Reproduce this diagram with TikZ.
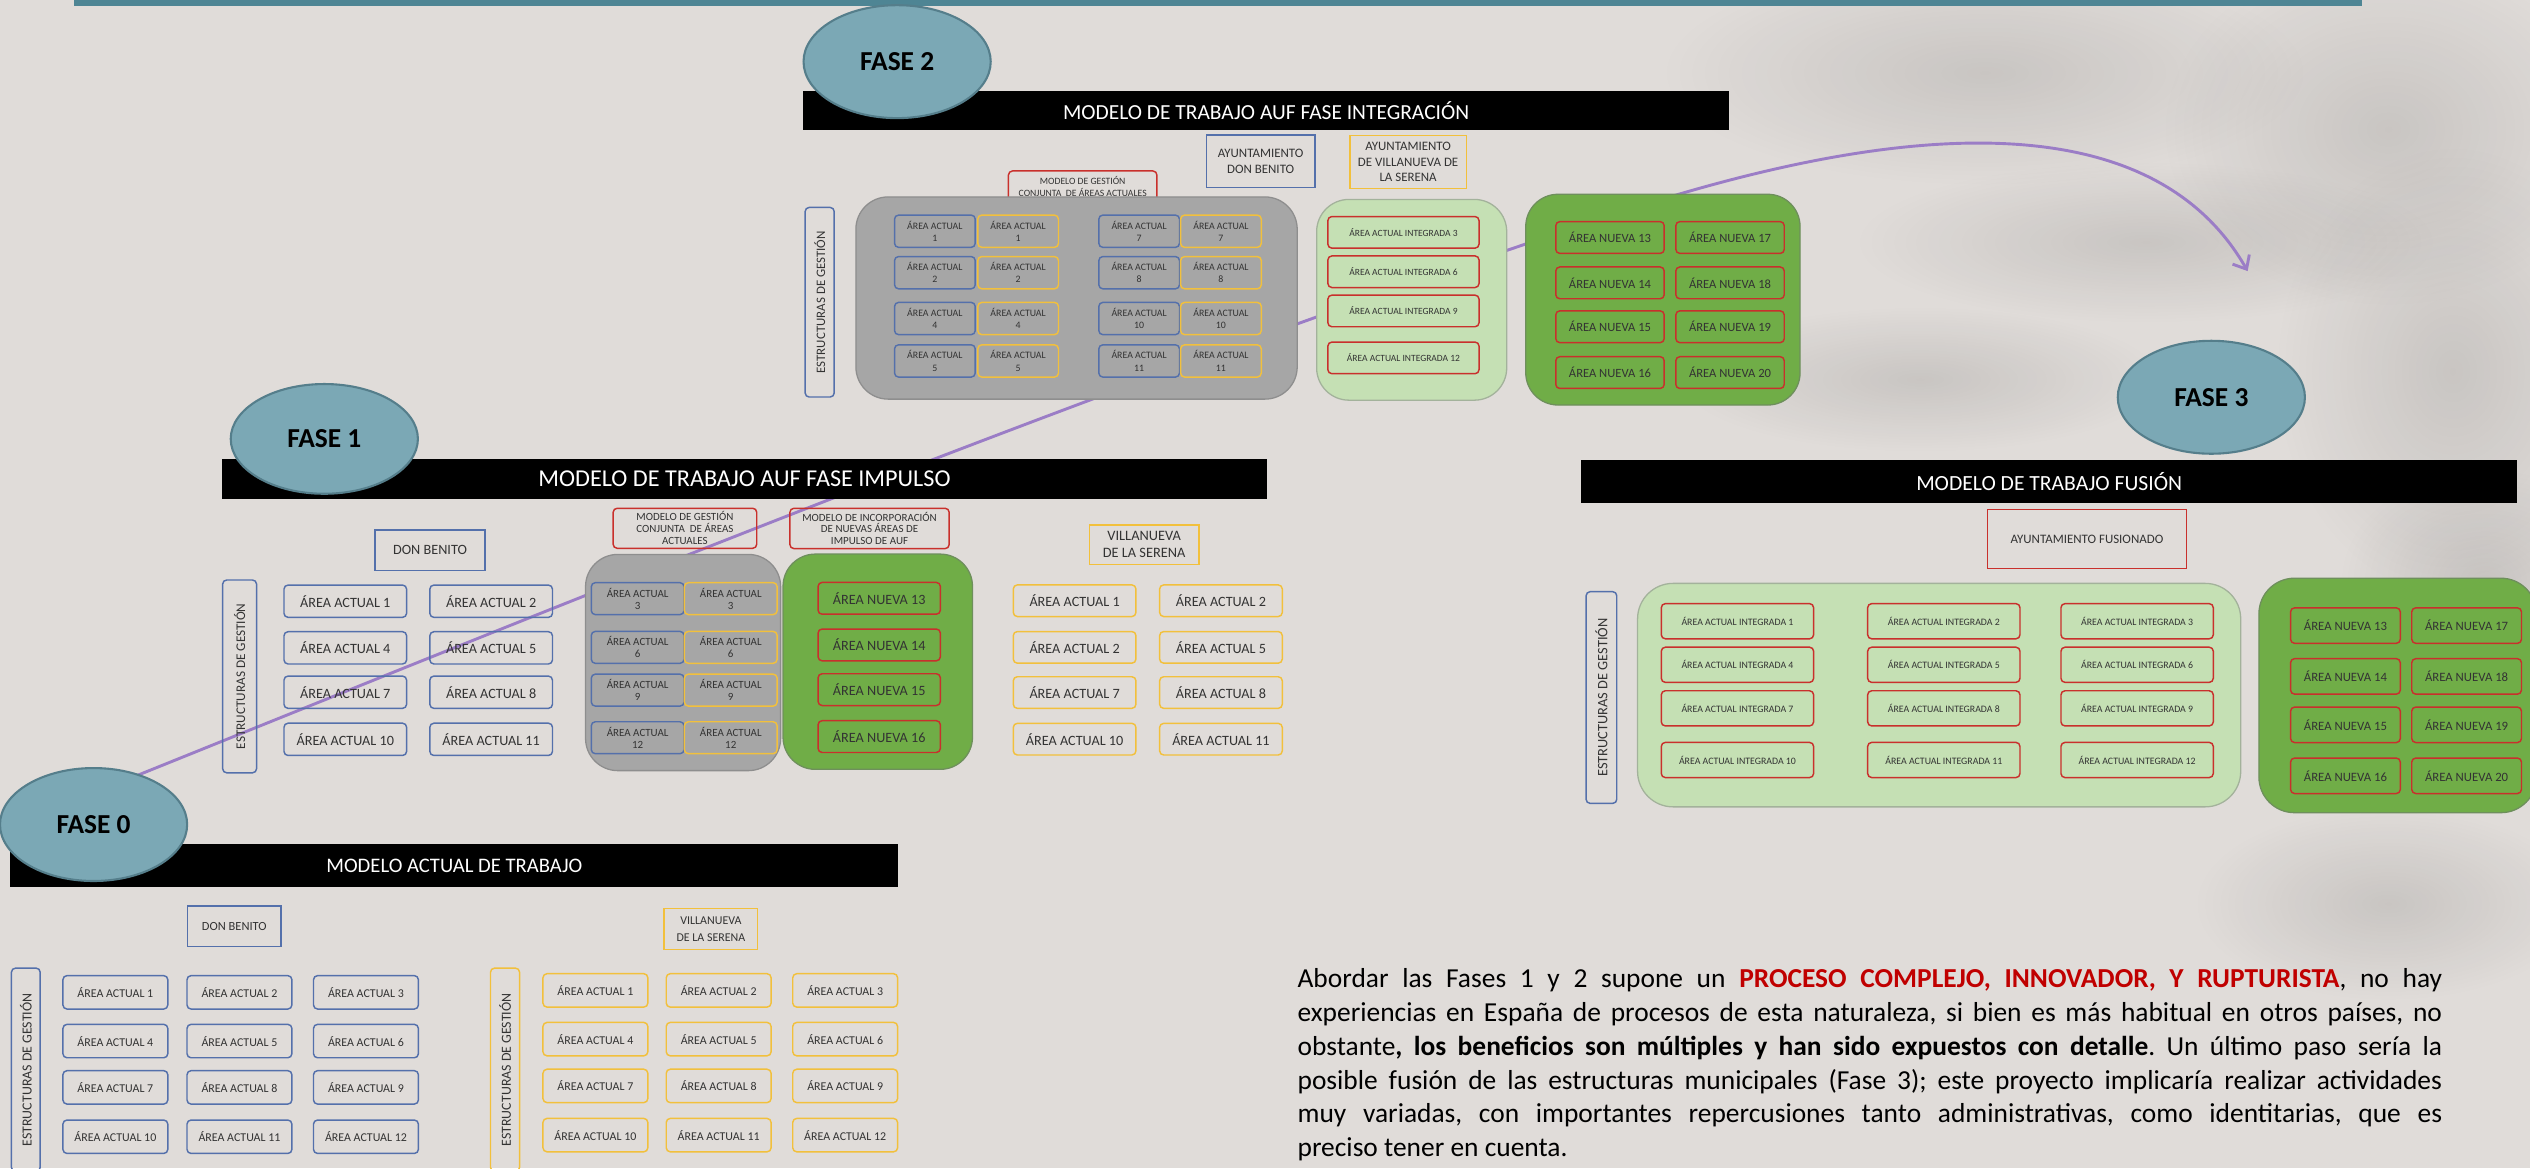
\documentclass[tikz,border=0pt]{standalone}
\usepackage{fontspec}
\setmainfont{Carlito}
\usetikzlibrary{shapes.geometric,arrows.meta,positioning,backgrounds,fadings}

\definecolor{bgcol}{HTML}{E0DCD9}
\definecolor{topteal}{HTML}{4E8594}
\definecolor{fasefill}{HTML}{7BA8B5}
\definecolor{faseline}{HTML}{557E8B}
\definecolor{dbblue}{HTML}{5470AB}
\definecolor{vsyellow}{HTML}{F2C03C}
\definecolor{rdred}{HTML}{C9302C}
\definecolor{panelgray}{HTML}{A6A6A6}
\definecolor{panelgrayline}{HTML}{8E8E8E}
\definecolor{lightgreen}{HTML}{C5E0B4}
\definecolor{lightgreenline}{HTML}{A3B29B}
\definecolor{darkgreen}{HTML}{70AD47}
\definecolor{darkgreenline}{HTML}{6E8F5C}
\definecolor{arrowviolet}{HTML}{9B7DC6}
\definecolor{boxtext}{HTML}{333333}
\definecolor{keyred}{HTML}{C00000}

\tikzfading[name=smokefade, inner color=transparent!0, outer color=transparent!100]

\newcommand{\sizefont}[2]{\fontsize{#1}{#2}\selectfont}

\begin{document}
\begin{tikzpicture}[%
    x=1pt, y=-1pt,              % work in the pixel grid of the slide
    font=\sizefont{8}{9},
    ]
% -------------------------------------------------
% Box styles
\tikzset{
base/.style={draw, line width=0.9pt, align=center, inner sep=0pt, text=boxtext},
area/.style={base, rounded corners=2.5pt},
db/.style={area, draw=dbblue},
vs/.style={area, draw=vsyellow},
rd/.style={area, draw=rdred},
tag/.style={base},
panel/.style={rounded corners=20pt, line width=0.8pt, inner sep=0pt},
graypanel/.style={panel, fill=panelgray, draw=panelgrayline},
lightpanel/.style={panel, fill=lightgreen, draw=lightgreenline},
greenpanel/.style={panel, fill=darkgreen, draw=darkgreenline},
fase/.style={ellipse, draw=faseline, fill=fasefill, line width=1.3pt, minimum width=116pt, minimum height=70pt, inner sep=0pt, font=\sizefont{17}{17}\bfseries},
titlebar/.style={fill=black, text=white, inner sep=0pt},
estr/.style={area, rotate=90},
smoke/.style={black, opacity=0.1, path fading=smokefade},
}
% -------------------------------------------------
% Slide background
\useasboundingbox (0,0) rectangle (1568,724);
\fill[bgcol] (0,0) rectangle (1568,724);
% blurred shadows on the right side of the slide
\fill[smoke] (1230,45) ellipse [x radius=200, y radius=70];
\fill[smoke] (1330,150) ellipse [x radius=180, y radius=50];
\fill[smoke] (1480,80) ellipse [x radius=140, y radius=110];
\fill[smoke] (1520,230) ellipse [x radius=110, y radius=140];
\fill[smoke] (1190,235) ellipse [x radius=150, y radius=45];
\fill[smoke] (1540,360) ellipse [x radius=90, y radius=70];
\fill[smoke] (1480,560) ellipse [x radius=120, y radius=60];
\fill[topteal] (46,0) rectangle (1464,3.7);

% Violet arrow from FASE 0 towards FASE 3 (runs behind panels and bars)
\coordinate (arrowstart) at (84,481);
\coordinate (arrowbend) at (1000,133);
\coordinate (arrowtip) at (1393,168);
\draw[arrowviolet, line width=1.8pt, -{Straight Barb[length=7pt,width=12pt]}]
    (arrowstart) .. controls (384,360) and (700,232) .. (arrowbend)
    .. controls (1200,67) and (1338,72) .. (arrowtip);

% -------------------------------------------------
% FASE 0
\node[titlebar, minimum width=550.4pt, minimum height=26.2pt, font=\sizefont{12.8}{13}] (bar0) at (281.6,536.4) {MODELO ACTUAL DE TRABAJO};
\node[fase] (fase0) at (58,511) {FASE 0};
\node[tag, draw=dbblue, minimum width=57.7pt, minimum height=25.2pt, font=\sizefont{7.7}{9}] (db0) at (145.2,574.1) {DON BENITO};
\node[tag, draw=vsyellow, minimum width=58pt, minimum height=25.4pt, font=\sizefont{7.4}{10.7}] (vs0) at (440.6,575.7) {VILLANUEVA\\DE LA SERENA};
\node[estr, draw=dbblue, minimum width=126pt, minimum height=17.8pt, font=\sizefont{8.6}{9}] (estr0) at (16,663) {ESTRUCTURAS DE GESTIÓN};
\node[estr, draw=vsyellow, minimum width=126pt, minimum height=18pt, font=\sizefont{8.6}{9}] (estr0y) at (313,663) {ESTRUCTURAS DE GESTIÓN};
\foreach \y [count=\r from 0] in {615,645.2,673.9,704.5}
  \foreach \x [count=\c] in {71.5,148.4,226.8} {
    \pgfmathtruncatemacro{\n}{3*\r+\c}
    \node[db, minimum width=65pt, minimum height=20.7pt, font=\sizefont{7.4}{9}] (adb0-\n) at (\x,\y) {ÁREA ACTUAL \n};
  }
\foreach \y [count=\r from 0] in {613.8,644,673,703.5}
  \foreach \x [count=\c] in {369,445.4,523.8} {
    \pgfmathtruncatemacro{\n}{3*\r+\c}
    \node[vs, minimum width=65pt, minimum height=20.7pt, font=\sizefont{7.4}{9}] (avs0-\n) at (\x,\y) {ÁREA ACTUAL \n};
  }

% -------------------------------------------------
% FASE 1
\node[titlebar, minimum width=647.3pt, minimum height=24.6pt, font=\sizefont{15}{15}] (bar1) at (461.4,297) {MODELO DE TRABAJO AUF FASE IMPULSO};
\node[fase, minimum height=68pt] (fase1) at (201,272) {FASE 1};
\node[tag, draw=dbblue, minimum width=68.3pt, minimum height=25.2pt, font=\sizefont{8.8}{10}] (db1) at (266.5,341.1) {DON BENITO};
\node[estr, draw=dbblue, minimum width=119.5pt, minimum height=21pt, font=\sizefont{8.2}{9}] (estr1) at (148.5,419.2) {ESTRUCTURAS DE GESTIÓN};
\foreach \y/\a/\b in {372.6/1/2, 401.5/4/5, 429/7/8, 458.2/10/11} {
    \node[db, minimum width=76pt, minimum height=20pt, font=\sizefont{8.8}{10}] (adb1-\a) at (214,\y) {ÁREA ACTUAL \a};
    \node[db, minimum width=76pt, minimum height=20pt, font=\sizefont{8.8}{10}] (adb1-\b) at (304.4,\y) {ÁREA ACTUAL \b};
  }
\node[rd, minimum width=89pt, minimum height=24.8pt, font=\sizefont{6.8}{7.4}] (mg1) at (424.5,327.4) {MODELO DE GESTIÓN\\CONJUNTA \ DE ÁREAS\\ACTUALES};
\node[rd, minimum width=98.7pt, minimum height=25pt, font=\sizefont{6.8}{7.4}] (mi1) at (538.9,327.5) {MODELO DE INCORPORACIÓN\\DE NUEVAS ÁREAS DE\\IMPULSO DE AUF};
\node[graypanel, minimum width=120.9pt, minimum height=134pt] (gray1) at (423.35,410.6) {};
\foreach \y/\n in {371/3, 401.2/6, 427.7/9, 457.2/12} {
    \node[db, minimum width=57.5pt, minimum height=19.8pt, font=\sizefont{6.8}{7.4}] (jdb1-\n) at (395.2,\y) {ÁREA ACTUAL\\\n};
    \node[vs, minimum width=57.5pt, minimum height=19.8pt, font=\sizefont{6.8}{7.4}] (jvs1-\n) at (452.9,\y) {ÁREA ACTUAL\\\n};
  }
\node[greenpanel, minimum width=117.4pt, minimum height=133.4pt] (green1) at (544,410.1) {};
\foreach \y/\n in {370.8/13, 399.7/14, 427.4/15, 456.5/16}
    \node[rd, minimum width=75.8pt, minimum height=19.7pt, font=\sizefont{8.8}{10}] (nueva1-\n) at (544.9,\y) {ÁREA NUEVA \n};
\node[tag, draw=vsyellow, minimum width=68pt, minimum height=24.4pt, font=\sizefont{8.9}{10.3}] (vs1) at (709.1,337.6) {VILLANUEVA\\DE LA SERENA};
\foreach \y/\a/\b in {372.3/1/2, 401.2/2/5, 429.2/7/8, 458.1/10/11} {
    \node[vs, minimum width=76pt, minimum height=19.6pt, font=\sizefont{8.8}{10}] (avs1-\y-a) at (666,\y) {ÁREA ACTUAL \a};
    \node[vs, minimum width=76pt, minimum height=19.6pt, font=\sizefont{8.8}{10}] (avs1-\y-b) at (756.7,\y) {ÁREA ACTUAL \b};
  }

% -------------------------------------------------
% FASE 2
\node[titlebar, minimum width=573.8pt, minimum height=24.4pt, font=\sizefont{13.3}{14}] (bar2) at (784.7,68.4) {MODELO DE TRABAJO AUF FASE INTEGRACIÓN};
\node[fase] (fase2) at (556,38.2) {FASE 2};
\node[tag, draw=dbblue, minimum width=67.4pt, minimum height=32.3pt, font=\sizefont{8}{9.9}] (db2) at (781.3,99.9) {AYUNTAMIENTO\\DON BENITO};
\node[tag, draw=vsyellow, minimum width=72.3pt, minimum height=33.1pt, font=\sizefont{8}{9.8}] (vs2) at (872.7,100.4) {AYUNTAMIENTO\\DE VILLANUEVA DE\\LA SERENA};
\node[rd, minimum width=92pt, minimum height=19.5pt, font=\sizefont{6}{7.2}] (mg2) at (671,115.7) {MODELO DE GESTIÓN\\CONJUNTA \ DE ÁREAS ACTUALES};
\node[estr, draw=dbblue, minimum width=117.5pt, minimum height=18pt, font=\sizefont{8}{9}] (estr2) at (508,187.3) {ESTRUCTURAS DE GESTIÓN};
\node[graypanel, minimum width=273.5pt, minimum height=125.3pt] (gray2) at (667.2,184.7) {};
\foreach \y/\a/\b in {143.3/1/7, 169/2/8, 197.4/4/10, 223.7/5/11} {
    \node[db, minimum width=50pt, minimum height=20pt, font=\sizefont{6.1}{7.6}] (jdb2-\a) at (579.4,\y) {ÁREA ACTUAL\\\a};
    \node[vs, minimum width=50pt, minimum height=20pt, font=\sizefont{6.1}{7.6}] (jvs2-\a) at (631,\y) {ÁREA ACTUAL\\\a};
    \node[db, minimum width=50pt, minimum height=20pt, font=\sizefont{6.1}{7.6}] (jdb2-\b) at (706,\y) {ÁREA ACTUAL\\\b};
    \node[vs, minimum width=50pt, minimum height=20pt, font=\sizefont{6.1}{7.6}] (jvs2-\b) at (756.7,\y) {ÁREA ACTUAL\\\b};
  }
\node[lightpanel, minimum width=117.8pt, minimum height=124.4pt] (light2) at (874.9,185.8) {};
\foreach \y/\n in {144/3, 168.4/6, 192.7/9, 221.8/12}
    \node[rd, minimum width=93.7pt, minimum height=19.6pt, font=\sizefont{5.9}{7}] (integ2-\n) at (869.8,\y) {ÁREA ACTUAL INTEGRADA \n};
\node[greenpanel, minimum width=170pt, minimum height=130.6pt] (green2) at (1030.6,185.7) {};
\foreach \y/\a/\b in {147.2/13/17, 175.3/14/18, 202.5/15/19, 230.9/16/20} {
    \node[rd, minimum width=67.2pt, minimum height=19.7pt, font=\sizefont{7.8}{9}] (nueva2-\a) at (997.8,\y) {ÁREA NUEVA \a};
    \node[rd, minimum width=67.2pt, minimum height=19.7pt, font=\sizefont{7.8}{9}] (nueva2-\b) at (1072.2,\y) {ÁREA NUEVA \b};
  }

% -------------------------------------------------
% FASE 3
\node[titlebar, minimum width=580pt, minimum height=27pt, font=\sizefont{13.4}{14}] (bar3) at (1270,298.5) {MODELO DE TRABAJO FUSIÓN};
\node[fase] (fase3) at (1370.5,246.2) {FASE 3};
\node[tag, draw=rdred, minimum width=123.2pt, minimum height=36.5pt, font=\sizefont{8}{9}] (af3) at (1293.4,334) {AYUNTAMIENTO FUSIONADO};
\node[estr, draw=dbblue, minimum width=131.2pt, minimum height=19pt, font=\sizefont{8.9}{9}] (estr3) at (992.5,432.3) {ESTRUCTURAS DE GESTIÓN};
\node[lightpanel, rounded corners=22pt, minimum width=373.8pt, minimum height=138.5pt] (light3) at (1201.8,430.8) {};
\foreach \y [count=\r from 0] in {385,412,439,471}
  \foreach \x [count=\c] in {1076.8,1204.7,1324.5} {
    \pgfmathtruncatemacro{\n}{3*\r+\c}
    \node[rd, minimum width=94.4pt, minimum height=21.8pt, font=\sizefont{6.1}{7}] (integ3-\n) at (\x,\y) {ÁREA ACTUAL INTEGRADA \n};
  }
\node[greenpanel, rounded corners=22pt, minimum width=172pt, minimum height=145.3pt] (green3) at (1486,431) {};
\foreach \y/\a/\b in {387.7/13/17, 419.2/14/18, 449.2/15/19, 480.8/16/20} {
    \node[rd, minimum width=68pt, minimum height=22pt, font=\sizefont{7.9}{9}] (nueva3-\a) at (1453.6,\y) {ÁREA NUEVA \a};
    \node[rd, minimum width=68pt, minimum height=22pt, font=\sizefont{7.9}{9}] (nueva3-\b) at (1528.7,\y) {ÁREA NUEVA \b};
  }

% -------------------------------------------------
% Closing paragraph
\node[anchor=north west, inner sep=0pt, text width=709.3pt, align=justify, font=\sizefont{17}{20.9}\frenchspacing, text=black] (texto) at (804,600.3) {%
Abordar las Fases 1 y 2 supone un \textbf{\color{keyred}PROCESO COMPLEJO, INNOVADOR, Y RUPTURISTA}, no hay\linebreak
experiencias en España de procesos de esta naturaleza, si bien es más habitual en otros países, no\linebreak
obstante\textbf{, los beneficios son múltiples y han sido expuestos con detalle}. Un último paso sería la\linebreak
posible fusión de las estructuras municipales (Fase 3); este proyecto implicaría realizar actividades\linebreak
muy variadas, con importantes repercusiones tanto administrativas, como identitarias, que es\linebreak
preciso tener en cuenta.};

\end{tikzpicture}
\end{document}
